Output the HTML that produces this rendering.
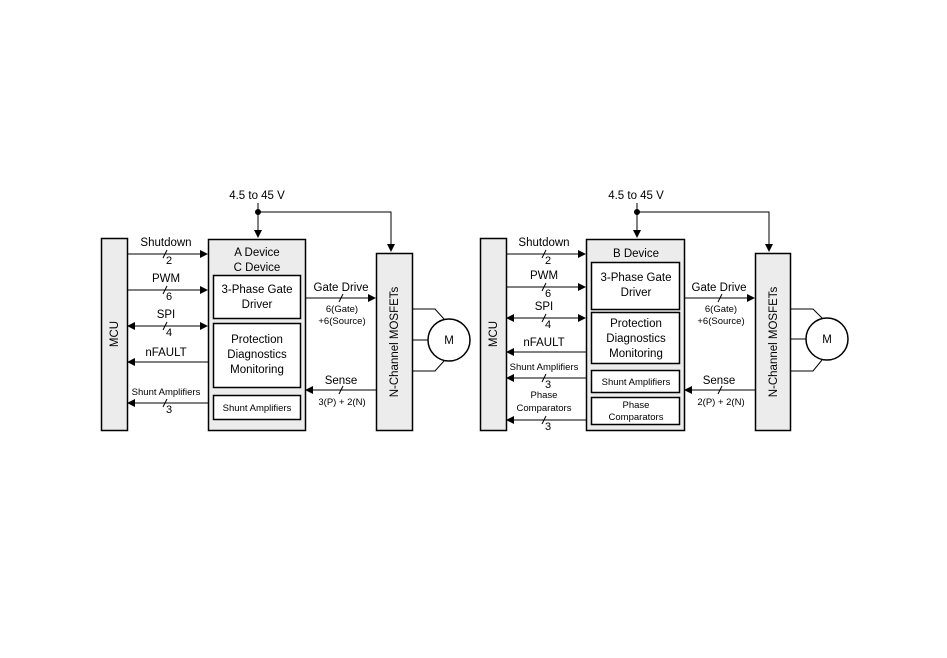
<!DOCTYPE html>
<html><head><meta charset="utf-8"><style>
html,body{margin:0;padding:0;background:#fff}
svg{display:block}
text{font-family:"Liberation Sans",Arial,sans-serif;fill:#000}
</style></head><body>
<svg width="947" height="658" viewBox="0 0 947 658" xmlns="http://www.w3.org/2000/svg">
<defs>
<marker id="a" markerWidth="8" markerHeight="8" refX="7" refY="4" orient="auto-start-reverse" markerUnits="userSpaceOnUse">
<path d="M0,0 L8,4 L0,8 z" fill="#000"/></marker>
</defs>
<g stroke="#000" stroke-width="1" fill="none">
<!-- LEFT -->
<rect x="101.5" y="238.5" width="26" height="192" fill="#ececec" stroke-width="1.5"/>
<rect x="208.5" y="239.5" width="97" height="191" fill="#ececec" stroke-width="1.5"/>
<rect x="213.5" y="275.5" width="87" height="43" fill="#fff" stroke-width="1.5"/>
<rect x="213.5" y="323.5" width="87" height="64" fill="#fff" stroke-width="1.5"/>
<rect x="213.5" y="395.5" width="87" height="24" fill="#fff" stroke-width="1.5"/>
<rect x="376.5" y="253.5" width="36" height="177" fill="#ececec" stroke-width="1.5"/>
<circle cx="449" cy="340" r="21" fill="#fff" stroke-width="1.5"/>
<path d="M412,309 H435 L444,319 M412,340 H428 M412,371 H435 L444,361"/>
<path d="M258,203 V237" marker-end="url(#a)"/>
<path d="M258,212 H391 V251" marker-end="url(#a)"/>
<path d="M127,254 H207" marker-end="url(#a)"/>
<path d="M127,290 H207" marker-end="url(#a)"/>
<path d="M128,326 H207" marker-start="url(#a)" marker-end="url(#a)"/>
<path d="M208,362 H128" marker-end="url(#a)"/>
<path d="M208,403 H128" marker-end="url(#a)"/>
<path d="M305,298 H375" marker-end="url(#a)"/>
<path d="M376,390 H306" marker-end="url(#a)"/>
<path d="M163,258 L167,250 M163,294 L167,286 M163,330 L167,322 M163,407 L167,399 M339,302 L343,294 M339,394 L343,386"/>
<!-- RIGHT -->
<rect x="480.5" y="238.5" width="26" height="192" fill="#ececec" stroke-width="1.5"/>
<rect x="586.5" y="239.5" width="98" height="191" fill="#ececec" stroke-width="1.5"/>
<rect x="591.5" y="262.5" width="88" height="47" fill="#fff" stroke-width="1.5"/>
<rect x="591.5" y="312.5" width="88" height="51" fill="#fff" stroke-width="1.5"/>
<rect x="591.5" y="370.5" width="88" height="22" fill="#fff" stroke-width="1.5"/>
<rect x="591.5" y="397.5" width="88" height="27" fill="#fff" stroke-width="1.5"/>
<rect x="755.5" y="253.5" width="35" height="177" fill="#ececec" stroke-width="1.5"/>
<circle cx="827" cy="339" r="21" fill="#fff" stroke-width="1.5"/>
<path d="M790,309 H813 L822,318 M790,339 H806 M790,371 H813 L822,360"/>
<path d="M637,203 V237" marker-end="url(#a)"/>
<path d="M637,212 H769 V251" marker-end="url(#a)"/>
<path d="M506,254 H585" marker-end="url(#a)"/>
<path d="M506,287 H585" marker-end="url(#a)"/>
<path d="M507,318 H585" marker-start="url(#a)" marker-end="url(#a)"/>
<path d="M586,352 H507" marker-end="url(#a)"/>
<path d="M586,378 H507" marker-end="url(#a)"/>
<path d="M586,420 H507" marker-end="url(#a)"/>
<path d="M684,298 H754" marker-end="url(#a)"/>
<path d="M755,390 H685" marker-end="url(#a)"/>
<path d="M542,258 L546,250 M542,291 L546,283 M542,322 L546,314 M542,382 L546,374 M542,424 L546,416 M718,302 L722,294 M718,394 L722,386"/>
</g>
<circle cx="258" cy="212" r="3"/>
<circle cx="637" cy="212" r="3"/>
<g font-size="11.5" text-anchor="middle">
<text x="257" y="199">4.5 to 45 V</text>
<text x="166" y="246">Shutdown</text>
<text x="169" y="264" font-size="11">2</text>
<text x="166" y="282">PWM</text>
<text x="169" y="300" font-size="11">6</text>
<text x="166" y="318">SPI</text>
<text x="169" y="336" font-size="11">4</text>
<text x="166" y="356">nFAULT</text>
<text x="166" y="395" font-size="9.5">Shunt Amplifiers</text>
<text x="169" y="413" font-size="11">3</text>
<text x="257" y="256">A Device</text>
<text x="257" y="271">C Device</text>
<text x="257" y="293">3-Phase Gate</text>
<text x="257" y="308">Driver</text>
<text x="257" y="343">Protection</text>
<text x="257" y="358">Diagnostics</text>
<text x="257" y="373">Monitoring</text>
<text x="257" y="411" font-size="9.5">Shunt Amplifiers</text>
<text x="341" y="291">Gate Drive</text>
<text x="342" y="312" font-size="9.5">6(Gate)</text>
<text x="342" y="324" font-size="9.5">+6(Source)</text>
<text x="341" y="384">Sense</text>
<text x="342" y="405" font-size="9.5">3(P) + 2(N)</text>
<text x="449" y="344">M</text>
<text transform="translate(118,334) rotate(-90)">MCU</text>
<text transform="translate(398,342) rotate(-90)">N-Channel MOSFETs</text>

<text x="636" y="199">4.5 to 45 V</text>
<text x="544" y="246">Shutdown</text>
<text x="548" y="264" font-size="11">2</text>
<text x="544" y="279">PWM</text>
<text x="548" y="297" font-size="11">6</text>
<text x="544" y="310">SPI</text>
<text x="548" y="328" font-size="11">4</text>
<text x="544" y="346">nFAULT</text>
<text x="544" y="370" font-size="9.5">Shunt Amplifiers</text>
<text x="548" y="388" font-size="11">3</text>
<text x="544" y="398" font-size="9.5">Phase</text>
<text x="544" y="411" font-size="9.5">Comparators</text>
<text x="548" y="430" font-size="11">3</text>
<text x="636" y="257">B Device</text>
<text x="636" y="281">3-Phase Gate</text>
<text x="636" y="296">Driver</text>
<text x="636" y="327">Protection</text>
<text x="636" y="342">Diagnostics</text>
<text x="636" y="357">Monitoring</text>
<text x="636" y="385" font-size="9.5">Shunt Amplifiers</text>
<text x="636" y="408" font-size="9.5">Phase</text>
<text x="636" y="420" font-size="9.5">Comparators</text>
<text x="719" y="291">Gate Drive</text>
<text x="721" y="312" font-size="9.5">6(Gate)</text>
<text x="721" y="324" font-size="9.5">+6(Source)</text>
<text x="719" y="384">Sense</text>
<text x="721" y="405" font-size="9.5">2(P) + 2(N)</text>
<text x="827" y="343">M</text>
<text transform="translate(497,334) rotate(-90)">MCU</text>
<text transform="translate(777,342) rotate(-90)">N-Channel MOSFETs</text>
</g>
</svg>
</body></html>
